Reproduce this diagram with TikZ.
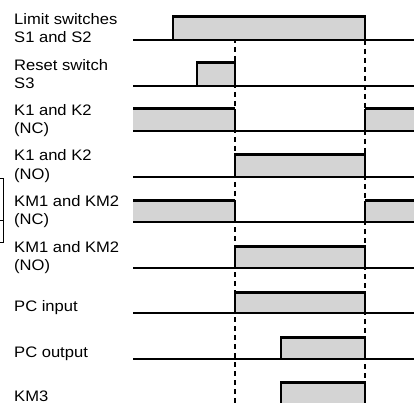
\documentclass[tikz,border=0pt]{standalone}
\usepackage{fontspec}
\setmainfont{Liberation Sans}[FakeStretch=1.09]
\begin{document}
\begin{tikzpicture}[x=1pt,y=-1pt,
  baseline/.style={line width=1.3pt},
  topline/.style={line width=3pt},
  edgeline/.style={line width=1.4pt},
  pfill/.style={fill=black!17},
  vline/.style={line width=1.2pt, dash pattern=on 5pt off 4pt},
  lbl/.style={anchor=base west, inner sep=0pt, font=\fontsize{15.2}{17}\selectfont},
  brk/.style={line width=0.6pt}]
\useasboundingbox (0,0) rectangle (414,403);
\newcommand\pulse[4]{%
  \fill[pfill] (#1,#3) rectangle (#2,#4);
  \draw[edgeline] (#1,#4) -- (#1,#3);
  \draw[edgeline] (#2,#3) -- (#2,#4);
  \draw[topline] (#1-0.7,#3) -- (#2+0.7,#3);}
\newcommand\ncpulse[4]{%
  \fill[pfill] (#1,#3) rectangle (#2,#4);
  \draw[topline] (#1,#3) -- (#2,#3);}
\begin{scope}
\clip (0,0) rectangle (414,403);
% dashed time markers
\draw[vline] (235,20) -- (235,403);
\draw[vline] (365,40) -- (365,403);
% row 1: limit switches
\pulse{173}{365}{17}{40}
\draw[baseline] (133,40) -- (414,40);
% row 2: reset switch
\pulse{197}{235}{63}{86}
\draw[baseline] (133,86) -- (414,86);
% row 3: K1 K2 NC
\ncpulse{133}{235}{109}{131}
\draw[edgeline] (235,109) -- (235,131);
\ncpulse{365}{414}{109}{131}
\draw[edgeline] (365,109) -- (365,131);
\draw[baseline] (133,131) -- (414,131);
% row 4: K1 K2 NO
\pulse{235}{365}{155}{177}
\draw[baseline] (133,177) -- (414,177);
% row 5: KM1 KM2 NC
\ncpulse{133}{235}{200.5}{222}
\draw[edgeline] (235,200.5) -- (235,222);
\ncpulse{365}{414}{200.5}{222}
\draw[edgeline] (365,200.5) -- (365,222);
\draw[baseline] (133,222) -- (414,222);
% row 6: KM1 KM2 NO
\pulse{235}{365}{246}{268}
\draw[baseline] (133,268) -- (414,268);
% row 7: PC input
\pulse{235}{365}{292}{313}
\draw[baseline] (133,313) -- (414,313);
% row 8: PC output
\pulse{281}{365}{337}{359}
\draw[baseline] (133,359) -- (414,359);
% row 9: KM3
\pulse{281}{365}{382}{410}
\end{scope}
% left bracket remnant
\draw[brk] (0,178) -- (3.3,178) -- (3.3,242) -- (0,242);
\draw[brk] (0,220) -- (3.3,220);
% labels
\node[lbl] (l1a) at (14,24.5) {Limit switches};
\node[lbl] (l1b) at (14,42.5) {S1 and S2};
\node[lbl] (l2a) at (14,70.5) {Reset switch};
\node[lbl] (l2b) at (14,88.5) {S3};
\node[lbl] (l3a) at (14,115.5) {K1 and K2};
\node[lbl] (l3b) at (14,133.5) {(NC)};
\node[lbl] (l4a) at (14,161) {K1 and K2};
\node[lbl] (l4b) at (14,179) {(NO)};
\node[lbl] (l5a) at (14,206.5) {KM1 and KM2};
\node[lbl] (l5b) at (14,224.5) {(NC)};
\node[lbl] (l6a) at (14,252.5) {KM1 and KM2};
\node[lbl] (l6b) at (14,270.5) {(NO)};
\node[lbl] (l7) at (14,311.5) {PC input};
\node[lbl] (l8) at (14,357.5) {PC output};
\node[lbl] (l9) at (14,401) {KM3};
\end{tikzpicture}
\end{document}
